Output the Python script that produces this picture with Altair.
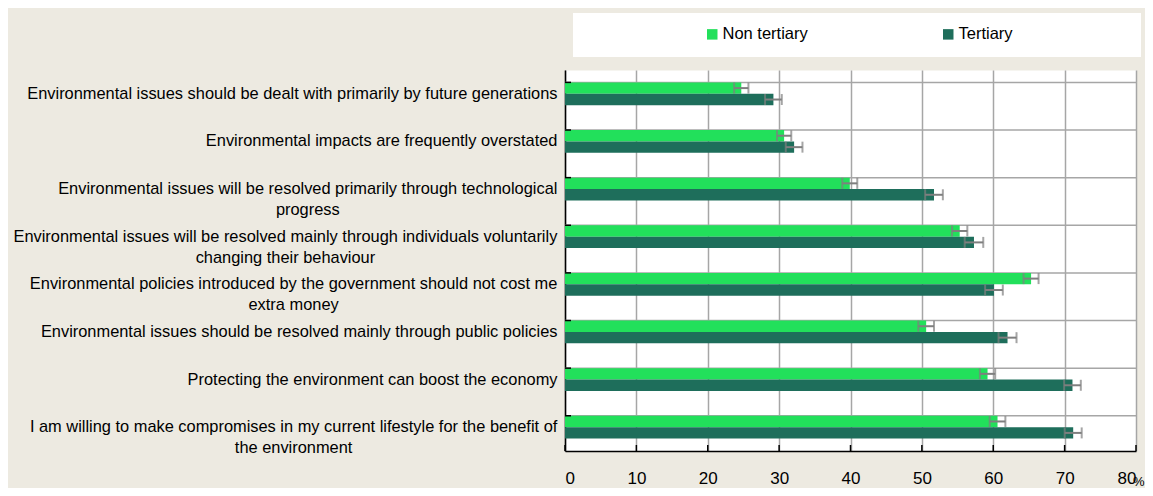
import altair as alt
import pandas as pd

# ---- data ----
question_lines = [
    ["Environmental issues should be dealt with primarily by future generations"],
    ["Environmental impacts are frequently overstated"],
    ["Environmental issues will be resolved primarily through technological", "progress"],
    ["Environmental issues will be resolved mainly through individuals voluntarily",
     "changing their behaviour"],
    ["Environmental policies introduced by the government should not cost me", "extra money"],
    ["Environmental issues should be resolved mainly through public policies"],
    ["Protecting the environment can boost the economy"],
    ["I am willing to make compromises in my current lifestyle for the benefit of",
     "the environment"],
]
groups = ["Non tertiary", "Tertiary"]
colors = ["#22E05B", "#1E6E5B"]
non_tertiary = [24.7, 30.7, 39.9, 55.3, 65.3, 50.6, 59.2, 60.6]
non_tertiary_err = [1.0, 1.0, 1.05, 1.07, 1.05, 1.1, 1.07, 1.1]
tertiary = [29.2, 32.1, 51.7, 57.3, 60.1, 62.0, 71.1, 71.2]
tertiary_err = [1.17, 1.17, 1.24, 1.3, 1.24, 1.26, 1.17, 1.19]
x_ticks = [0, 10, 20, 30, 40, 50, 60, 70, 80]

FONT = "Liberation Sans Narrow, Arial Narrow, Liberation Sans, Arial, sans-serif"
LABEL_SIZE = 16.4
LABEL_PAD = 8

# Arial / Liberation Sans advance widths (per 1000 em): used so that a wrapped
# label is right-aligned as a block while its lines are centred on each other.
_W = {" ": 278, "a": 556, "b": 556, "c": 500, "d": 556, "e": 556, "f": 278, "g": 556,
      "h": 556, "i": 222, "j": 222, "k": 500, "l": 222, "m": 833, "n": 556, "o": 556,
      "p": 556, "q": 556, "r": 333, "s": 500, "t": 278, "u": 556, "v": 500, "w": 722,
      "x": 500, "y": 500, "z": 500, "E": 667, "I": 278, "P": 667}


def text_w(s):
    return sum(_W.get(c, 556) for c in s) * LABEL_SIZE / 1000.0


questions = ["|".join(l) for l in question_lines]
pad_conditions = [
    {"test": "datum.value === '%s'" % "|".join(l),
     "value": round(LABEL_PAD + max(text_w(x) for x in l) / 2.0, 1)}
    for l in question_lines if len(l) > 1
]

rows = []
for i, q in enumerate(questions):
    for g, vals, errs in [("Non tertiary", non_tertiary, non_tertiary_err),
                          ("Tertiary", tertiary, tertiary_err)]:
        rows.append({"q": q, "group": g, "value": vals[i],
                     "lo": vals[i] - errs[i], "hi": vals[i] + errs[i]})
df = pd.DataFrame(rows)
qdf = pd.DataFrame({"q": questions})
tdf = pd.DataFrame({"t": x_ticks})
boxdf = pd.DataFrame({"a": [0]})

W, H = 571, 381
GRID = "#A6A6A6"
ERR = "#7F7F7F"

y_scale = alt.Scale(domain=questions, paddingInner=0.52, paddingOuter=0.26)
y_axis = alt.Axis(title=None, labelExpr="split(datum.label, '|')", labelFont=FONT,
                  labelFontSize=LABEL_SIZE, labelColor="black",
                  labelAlign={"condition": {"test": "indexof(datum.value, '|') >= 0",
                                            "value": "center"}, "value": "right"},
                  labelPadding={"condition": pad_conditions, "value": LABEL_PAD},
                  labelLimit=0, labelLineHeight=21, ticks=False, grid=False,
                  domain=True, domainColor="black", domainWidth=1.5)
x_scale = alt.Scale(domain=[0, 80], nice=False)
x_axis = alt.Axis(title="%", values=x_ticks, labelFont=FONT, labelFontSize=17,
                  labelColor="black", ticks=False, tickSize=0, labelPadding=19,
                  grid=True, gridColor=GRID, gridWidth=1.5, domainColor="black",
                  domainWidth=1.5, titleFont=FONT, titleFontSize=13,
                  titleFontWeight="normal", titleColor="black", titleX=579,
                  titleY=30, titleAlign="right", titleBaseline="middle")


def Y(**kw):
    return alt.Y("q:N", scale=y_scale, axis=y_axis, **kw)


def X(field):
    return alt.X(field, scale=x_scale, axis=x_axis)


yoff = alt.YOffset("group:N", scale=alt.Scale(domain=groups, paddingInner=0, paddingOuter=0))

box = alt.Chart(boxdf).mark_rect(color="white").encode(
    x=alt.value(8), x2=alt.value(576), y=alt.value(-57), y2=alt.value(-13))

separators = alt.Chart(qdf).mark_rule(color=GRID, strokeWidth=1.5).encode(
    y=Y(bandPosition=0), x=alt.value(0), x2=alt.value(W))

bars = alt.Chart(df).mark_bar().encode(
    x=X("value:Q"), y=Y(), yOffset=yoff,
    color=alt.Color("group:N", scale=alt.Scale(domain=groups, range=colors),
                    legend=alt.Legend(orient="none", legendX=139, legendY=-44,
                                      direction="horizontal", title=None,
                                      symbolType="square", symbolSize=110,
                                      symbolStrokeWidth=0, labelFont=FONT,
                                      labelFontSize=16.5, labelColor="black",
                                      columnPadding=132, labelOffset=2, padding=0)))

err_line = alt.Chart(df).mark_rule(color=ERR, strokeWidth=2).encode(
    x=X("lo:Q"), x2="hi:Q", y=Y(), yOffset=yoff)
cap_lo = alt.Chart(df).mark_tick(color=ERR, thickness=2, size=11, orient="vertical").encode(
    x=X("lo:Q"), y=Y(), yOffset=yoff)
cap_hi = alt.Chart(df).mark_tick(color=ERR, thickness=2, size=11, orient="vertical").encode(
    x=X("hi:Q"), y=Y(), yOffset=yoff)

y_ticks = alt.Chart(qdf).mark_rule(color="black", strokeWidth=1.5).encode(
    y=Y(bandPosition=0), x=alt.value(0), x2=alt.value(6))
x_tick_marks = alt.Chart(tdf).mark_rule(color="black", strokeWidth=1.5).encode(
    x=X("t:Q"), y=alt.value(H - 6), y2=alt.value(H))

chart = alt.layer(box, separators, bars, err_line, cap_lo, cap_hi, y_ticks, x_tick_marks).properties(
    width=W, height=H,
    padding={"left": 557, "top": 62, "right": 9, "bottom": 37},
    autosize=alt.AutoSizeParams(type="none"),
    background="#EDEAE1",
).configure_view(fill="white", stroke="transparent")

chart.save("out.html", embed_options={"renderer": "svg", "actions": False})
